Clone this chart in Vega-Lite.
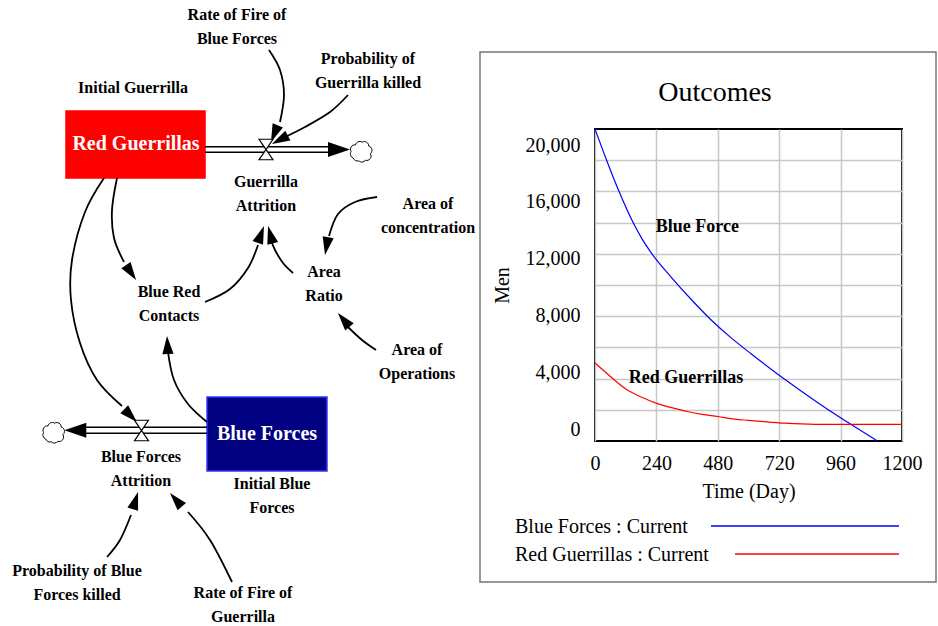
{
  "$schema": "https://vega.github.io/schema/vega-lite/v6.json",
  "width": 307,
  "height": 312,
  "autosize": {"type": "none"},
  "padding": {"left": 595, "top": 129, "right": 36, "bottom": 185},
  "background": "white",
  "config": {
    "font": "Liberation Serif",
    "view": {"stroke": "black", "strokeWidth": 2},
    "axis": {"labelFont": "Liberation Serif", "titleFont": "Liberation Serif", "labelColor": "black", "titleColor": "black", "titleFontWeight": "normal"}
  },
  "datasets": {
    "series": [
      {"series": "Blue Forces", "time": 0, "men": 21127},
      {"series": "Blue Forces", "time": 45, "men": 18950},
      {"series": "Blue Forces", "time": 90, "men": 16900},
      {"series": "Blue Forces", "time": 150, "men": 14500},
      {"series": "Blue Forces", "time": 185, "men": 13350},
      {"series": "Blue Forces", "time": 220, "men": 12400},
      {"series": "Blue Forces", "time": 300, "men": 10650},
      {"series": "Blue Forces", "time": 380, "men": 9050},
      {"series": "Blue Forces", "time": 450, "men": 7750},
      {"series": "Blue Forces", "time": 530, "men": 6450},
      {"series": "Blue Forces", "time": 610, "men": 5300},
      {"series": "Blue Forces", "time": 700, "men": 4050},
      {"series": "Blue Forces", "time": 800, "men": 2750},
      {"series": "Blue Forces", "time": 900, "men": 1500},
      {"series": "Blue Forces", "time": 1000, "men": 330},
      {"series": "Blue Forces", "time": 1104, "men": -845},
      {"series": "Red Guerrillas", "time": 0, "men": 4650},
      {"series": "Red Guerrillas", "time": 64, "men": 3640},
      {"series": "Red Guerrillas", "time": 122, "men": 2800},
      {"series": "Red Guerrillas", "time": 181, "men": 2250},
      {"series": "Red Guerrillas", "time": 241, "men": 1800},
      {"series": "Red Guerrillas", "time": 300, "men": 1500},
      {"series": "Red Guerrillas", "time": 360, "men": 1230},
      {"series": "Red Guerrillas", "time": 419, "men": 1030},
      {"series": "Red Guerrillas", "time": 480, "men": 880},
      {"series": "Red Guerrillas", "time": 545, "men": 700},
      {"series": "Red Guerrillas", "time": 600, "men": 610},
      {"series": "Red Guerrillas", "time": 662, "men": 515},
      {"series": "Red Guerrillas", "time": 741, "men": 410},
      {"series": "Red Guerrillas", "time": 858, "men": 331},
      {"series": "Red Guerrillas", "time": 975, "men": 331},
      {"series": "Red Guerrillas", "time": 1200, "men": 331}
    ],
    "chartLabels": [
      {"label": "Blue Force", "time": 400, "men": 14225},
      {"label": "Red Guerrillas", "time": 356, "men": 3592}
    ],
    "frame": [{"x": 480, "x2": 936, "y": 52, "y2": 582}],
    "chartTitle": [{"label": "Outcomes", "x": 715, "y": 93}],
    "boxes": [
      {"name": "Red Guerrillas", "x": 66, "x2": 205, "y": 111, "y2": 178},
      {"name": "Blue Forces", "x": 207, "x2": 327, "y": 397, "y2": 471}
    ],
    "pipes": [
      {"flow": "Guerrilla Attrition", "x": 205, "x2": 332, "y": 146.7},
      {"flow": "Guerrilla Attrition", "x": 205, "x2": 332, "y": 152.3},
      {"flow": "Blue Forces Attrition", "x": 80, "x2": 207, "y": 427.3},
      {"flow": "Blue Forces Attrition", "x": 80, "x2": 207, "y": 433.3}
    ],
    "valves": [
      {"flow": "Guerrilla Attrition", "x": 266, "y": 149.5},
      {"flow": "Blue Forces Attrition", "x": 141.5, "y": 430.5}
    ],
    "pipeArrows": [
      {"flow": "Guerrilla Attrition", "x": 339, "y": 149.5, "angle": 90},
      {"flow": "Blue Forces Attrition", "x": 75.3, "y": 430.3, "angle": 270}
    ],
    "clouds": [
      {"flow": "Guerrilla Attrition", "x": 361, "y": 151.5},
      {"flow": "Blue Forces Attrition", "x": 53.5, "y": 432.5}
    ],
    "connectors": [
      {"id": "a", "seq": 0, "x": 269, "y": 50}, {"id": "a", "seq": 1, "x": 280, "y": 70}, {"id": "a", "seq": 2, "x": 284, "y": 95}, {"id": "a", "seq": 3, "x": 280, "y": 122},
      {"id": "b", "seq": 0, "x": 348, "y": 95}, {"id": "b", "seq": 1, "x": 330, "y": 112}, {"id": "b", "seq": 2, "x": 305, "y": 127}, {"id": "b", "seq": 3, "x": 285, "y": 137},
      {"id": "c", "seq": 0, "x": 117, "y": 178}, {"id": "c", "seq": 1, "x": 112, "y": 210}, {"id": "c", "seq": 2, "x": 114, "y": 238}, {"id": "c", "seq": 3, "x": 124, "y": 262},
      {"id": "d", "seq": 0, "x": 104, "y": 178}, {"id": "d", "seq": 1, "x": 85, "y": 212}, {"id": "d", "seq": 2, "x": 72, "y": 260}, {"id": "d", "seq": 3, "x": 71, "y": 300}, {"id": "d", "seq": 4, "x": 80, "y": 343}, {"id": "d", "seq": 5, "x": 97, "y": 380}, {"id": "d", "seq": 6, "x": 122, "y": 406},
      {"id": "e", "seq": 0, "x": 205, "y": 302}, {"id": "e", "seq": 1, "x": 230, "y": 289}, {"id": "e", "seq": 2, "x": 248, "y": 268}, {"id": "e", "seq": 3, "x": 258, "y": 245},
      {"id": "f", "seq": 0, "x": 293, "y": 273}, {"id": "f", "seq": 1, "x": 283, "y": 263}, {"id": "f", "seq": 2, "x": 275, "y": 250}, {"id": "f", "seq": 3, "x": 271, "y": 240},
      {"id": "g", "seq": 0, "x": 377, "y": 197}, {"id": "g", "seq": 1, "x": 355, "y": 202}, {"id": "g", "seq": 2, "x": 338, "y": 214}, {"id": "g", "seq": 3, "x": 329, "y": 236},
      {"id": "h", "seq": 0, "x": 376, "y": 350}, {"id": "h", "seq": 1, "x": 362, "y": 340}, {"id": "h", "seq": 2, "x": 348, "y": 327},
      {"id": "i", "seq": 0, "x": 207, "y": 422}, {"id": "i", "seq": 1, "x": 188, "y": 404}, {"id": "i", "seq": 2, "x": 174, "y": 380}, {"id": "i", "seq": 3, "x": 168, "y": 352},
      {"id": "j", "seq": 0, "x": 107, "y": 557}, {"id": "j", "seq": 1, "x": 120, "y": 540}, {"id": "j", "seq": 2, "x": 131, "y": 515},
      {"id": "k", "seq": 0, "x": 232, "y": 582}, {"id": "k", "seq": 1, "x": 210, "y": 540}, {"id": "k", "seq": 2, "x": 188, "y": 512}
    ],
    "arrowheads": [
      {"id": "a", "x": 274.4, "y": 133.7, "angle": 202},
      {"id": "b", "x": 279.9, "y": 139.8, "angle": 242},
      {"id": "c", "x": 131, "y": 272.5, "angle": 146},
      {"id": "d", "x": 130.6, "y": 415.6, "angle": 135},
      {"id": "e", "x": 260.9, "y": 234.5, "angle": 20},
      {"id": "f", "x": 270.4, "y": 234.7, "angle": 345},
      {"id": "g", "x": 326.6, "y": 246.1, "angle": 190},
      {"id": "h", "x": 343.7, "y": 319.9, "angle": 320},
      {"id": "i", "x": 167.5, "y": 345, "angle": 357},
      {"id": "j", "x": 135.4, "y": 500.6, "angle": 17},
      {"id": "k", "x": 175.9, "y": 499.8, "angle": 319}
    ],
    "variables": [
      {"label": "Rate of Fire of\nBlue Forces", "x": 237, "y": 15},
      {"label": "Probability of\nGuerrilla killed", "x": 368, "y": 58.5},
      {"label": "Initial Guerrilla", "x": 133, "y": 88},
      {"label": "Guerrilla\nAttrition", "x": 266, "y": 181.5},
      {"label": "Area of\nconcentration", "x": 428, "y": 203.5},
      {"label": "Area\nRatio", "x": 324, "y": 272},
      {"label": "Blue Red\nContacts", "x": 169, "y": 292},
      {"label": "Area of\nOperations", "x": 417, "y": 350},
      {"label": "Blue Forces\nAttrition", "x": 141, "y": 457},
      {"label": "Initial Blue\nForces", "x": 272, "y": 483.5},
      {"label": "Probability of Blue\nForces killed", "x": 77, "y": 570.5},
      {"label": "Rate of Fire of\nGuerrilla", "x": 243, "y": 593}
    ],
    "stocks": [
      {"label": "Red Guerrillas", "x": 136, "y": 144},
      {"label": "Blue Forces", "x": 267, "y": 434}
    ],
    "legend": [
      {"series": "Blue Forces", "label": "Blue Forces : Current", "x": 515, "y": 527, "lineX": 711, "lineX2": 899, "lineY": 526},
      {"series": "Red Guerrillas", "label": "Red Guerrillas : Current", "x": 515, "y": 555, "lineX": 735, "lineX2": 899, "lineY": 554}
    ]
  },
  "layer": [
    {
      "layer": [
        {
          "data": {"name": "series"},
          "mark": {"type": "line", "strokeWidth": 1.2, "interpolate": "monotone"},
          "encoding": {
            "x": {"field": "time", "type": "quantitative", "scale": {"domain": [0, 1200], "nice": false, "zero": false},
              "axis": {"values": [0, 60, 120, 180, 240, 300, 360, 420, 480, 540, 600, 660, 720, 780, 840, 900, 960, 1020, 1080, 1140, 1200],
                "labelExpr": "datum.value % 240 === 0 ? datum.label : ''", "format": "d", "labelOverlap": false, "labelFlush": false,
                "grid": true, "gridColor": "#c8c8c8", "gridWidth": 1.5, "ticks": false, "domain": false,
                "labelFontSize": 20, "labelPadding": 12, "title": "Time (Day)", "titleFontSize": 20, "titlePadding": 8}},
            "y": {"field": "men", "type": "quantitative", "scale": {"domain": [-845, 21127], "nice": false, "zero": false},
              "axis": {"orient": "right", "values": [1352, 3549, 5747, 7944, 10141, 12338, 14535, 16733, 18930],
                "grid": true, "gridColor": "#c8c8c8", "gridWidth": 1.5, "labels": false, "ticks": false, "domain": false, "title": null}},
            "color": {"field": "series", "type": "nominal", "scale": {"domain": ["Blue Forces", "Red Guerrillas"], "range": ["#0000ff", "#ff0000"]}, "legend": null}
          }
        },
        {
          "data": {"name": "chartLabels"},
          "mark": {"type": "text", "fontWeight": "bold", "fontSize": 18, "color": "black", "font": "Liberation Serif"},
          "encoding": {
            "x": {"field": "time", "type": "quantitative"},
            "y": {"field": "men", "type": "quantitative",
              "axis": {"orient": "left", "values": [0, 4000, 8000, 12000, 16000, 20000], "format": ",.0f", "grid": false, "ticks": false, "domain": false,
                "labelFontSize": 20, "labelPadding": 15, "labelFlush": false, "labelOverlap": false, "title": "Men", "titleFontSize": 20, "titlePadding": 13}},
            "text": {"field": "label"}
          }
        }
      ],
      "resolve": {"axis": {"y": "independent"}}
    },
    {
      "encoding": {
        "x": {"field": "x", "type": "quantitative", "scale": {"domain": [595, 902], "nice": false, "zero": false}, "axis": null},
        "y": {"field": "y", "type": "quantitative", "scale": {"domain": [129, 441], "reverse": true, "nice": false, "zero": false}, "axis": null}
      },
      "layer": [
        {
          "data": {"name": "frame"},
          "mark": {"type": "rect", "filled": false, "stroke": "#777777", "strokeWidth": 1.5},
          "encoding": {"x2": {"field": "x2"}, "y2": {"field": "y2"}}
        },
        {
          "data": {"name": "chartTitle"},
          "mark": {"type": "text", "font": "Liberation Serif", "fontSize": 28, "align": "center", "baseline": "middle", "color": "black"},
          "encoding": {"text": {"field": "label"}}
        },
        {
          "data": {"name": "boxes"},
          "mark": {"type": "rect", "strokeWidth": 1.5},
          "encoding": {
            "x2": {"field": "x2"}, "y2": {"field": "y2"},
            "fill": {"field": "name", "type": "nominal", "scale": {"domain": ["Red Guerrillas", "Blue Forces"], "range": ["#ff0000", "#000080"]}, "legend": null},
            "stroke": {"field": "name", "type": "nominal", "scale": {"domain": ["Red Guerrillas", "Blue Forces"], "range": ["#ff0000", "#3333ff"]}, "legend": null}
          }
        },
        {
          "data": {"name": "pipes"},
          "mark": {"type": "rule", "color": "black", "strokeWidth": 1.5},
          "encoding": {"x2": {"field": "x2"}}
        },
        {
          "data": {"name": "connectors"},
          "mark": {"type": "line", "color": "black", "strokeWidth": 1.8, "interpolate": "cardinal"},
          "encoding": {"order": {"field": "seq", "type": "quantitative"}, "detail": {"field": "id", "type": "nominal"}}
        },
        {
          "data": {"name": "arrowheads"},
          "mark": {"type": "point", "shape": "M0,-1L0.62,1L-0.62,1Z", "filled": true, "color": "black", "size": 324, "opacity": 1, "strokeWidth": 0},
          "encoding": {"angle": {"field": "angle", "type": "quantitative", "scale": null}}
        },
        {
          "data": {"name": "pipeArrows"},
          "mark": {"type": "point", "shape": "M0,-1L0.68,1L-0.68,1Z", "filled": true, "color": "black", "size": 484, "opacity": 1, "strokeWidth": 0},
          "encoding": {"angle": {"field": "angle", "type": "quantitative", "scale": null}}
        },
        {
          "data": {"name": "valves"},
          "mark": {"type": "point", "shape": "M-0.68,-1L0.68,-1L-0.68,1L0.68,1Z", "filled": true, "fill": "white", "stroke": "black", "strokeWidth": 1.2, "size": 420, "opacity": 1}
        },
        {
          "data": {"name": "clouds"},
          "mark": {"type": "point", "shape": "M-0.7,0.6A0.4,0.4 0 0 1 -0.9,0A0.4,0.4 0 0 1 -0.5,-0.6A0.4,0.4 0 0 1 0.1,-0.85A0.4,0.4 0 0 1 0.7,-0.5A0.4,0.4 0 0 1 0.85,0.2A0.4,0.4 0 0 1 0.4,0.8A0.4,0.4 0 0 1 -0.2,0.85A0.4,0.4 0 0 1 -0.7,0.6Z", "filled": true, "fill": "white", "stroke": "black", "strokeWidth": 1, "size": 484, "opacity": 1}
        },
        {
          "data": {"name": "variables"},
          "mark": {"type": "text", "font": "Liberation Serif", "fontWeight": "bold", "fontSize": 16, "lineBreak": "\n", "lineHeight": 24, "align": "center", "baseline": "middle", "color": "black"},
          "encoding": {"text": {"field": "label"}}
        },
        {
          "data": {"name": "stocks"},
          "mark": {"type": "text", "font": "Liberation Serif", "fontWeight": "bold", "fontSize": 20, "align": "center", "baseline": "middle", "color": "white"},
          "encoding": {"text": {"field": "label"}}
        },
        {
          "data": {"name": "legend"},
          "mark": {"type": "rule", "strokeWidth": 1.3},
          "encoding": {
            "x": {"field": "lineX", "type": "quantitative"},
            "x2": {"field": "lineX2"},
            "y": {"field": "lineY", "type": "quantitative"},
            "color": {"field": "series", "type": "nominal", "scale": {"domain": ["Blue Forces", "Red Guerrillas"], "range": ["#0000ff", "#ff0000"]}, "legend": null}
          }
        },
        {
          "data": {"name": "legend"},
          "mark": {"type": "text", "font": "Liberation Serif", "fontSize": 20, "align": "left", "baseline": "middle", "color": "black"},
          "encoding": {"text": {"field": "label"}}
        }
      ]
    }
  ],
  "resolve": {"scale": {"x": "independent", "y": "independent", "color": "independent"}}
}
